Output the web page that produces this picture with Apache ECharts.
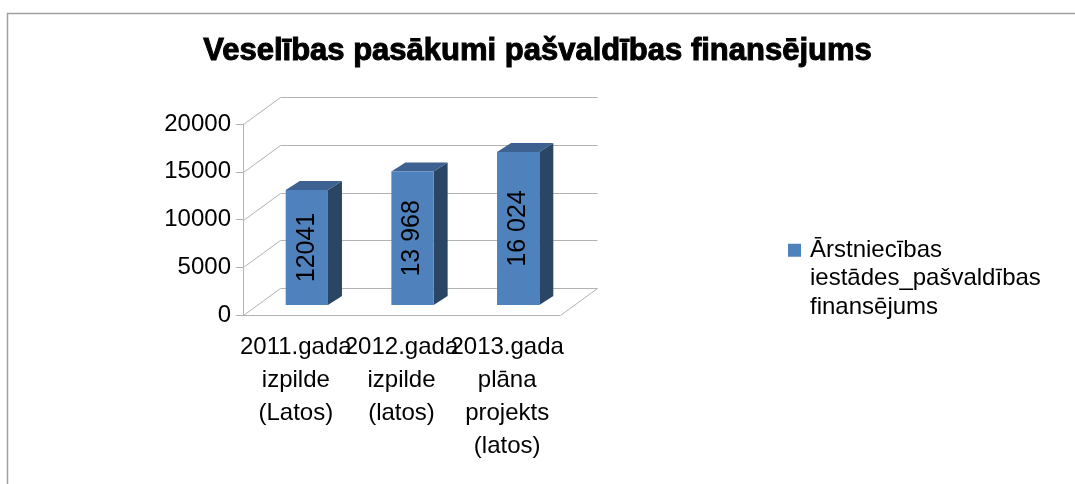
<!DOCTYPE html>
<html>
<head>
<meta charset="utf-8">
<script src="https://cdn.jsdelivr.net/npm/echarts@6/dist/echarts.min.js"></script>
<style>html,body{margin:0;padding:0;background:#fff}#main{width:1075px;height:484px}</style>
</head>
<body>
<div id="main"></div>
<script>
var categories = ['2011.gada izpilde (Latos)', '2012.gada izpilde (latos)', '2013.gada plāna projekts (latos)'];
var values = [12041, 13968, 16024];
var valueLabels = ['12041', '13 968', '16 024'];
var yTicks = [0, 5000, 10000, 15000, 20000];
var seriesName = 'Ārstniecības iestādes_pašvaldības finansējums';
var titleText = 'Veselības pasākumi pašvaldības finansējums';

var chartDom = document.getElementById('main');
var myChart = echarts.init(chartDom);

// fake 3d: offsets in px
var depth = [37, -27];
var barFront = [11, -10];
var barDepth = [14, -9];
var gridColor = '#b3b3b3';
var frontColor = '#4f81bd', sideColor = '#2b4565', topColor = '#3d6190';
var font = '"Liberation Sans", Arial, sans-serif';

function splitLines(s) {
  return s.split(' ').join('\n');
}

function renderWall(params, api) {
  var cs = params.coordSys;
  var v = api.value(1);
  var y = Math.round(api.coord([0, v])[1]) + 0.5;
  var x0 = cs.x + 0.5, x1 = cs.x + cs.width + 0.5;
  var pts = [[x0, y], [x0 + depth[0], y + depth[1]], [x1 + depth[0], y + depth[1]]];
  if (v === 0) pts.push([x1, y]);
  return {
    type: 'polyline',
    shape: { points: pts },
    style: { stroke: gridColor, lineWidth: 1, fill: null }
  };
}

function renderBar(params, api) {
  var base = api.coord([api.value(0), 0]);
  var top = api.coord([api.value(0), api.value(1)]);
  var w = api.size([1, 0])[0] * 0.4;
  var l = base[0] - w / 2 + barFront[0], r = l + w;
  var b = base[1] + barFront[1], t = top[1] + barFront[1];
  var dx = barDepth[0], dy = barDepth[1];
  return {
    type: 'group',
    children: [
      { type: 'polygon', shape: { points: [[r, b], [r + dx, b + dy], [r + dx, t + dy], [r, t]] }, style: { fill: sideColor } },
      { type: 'polygon', shape: { points: [[l, t], [r, t], [r + dx, t + dy], [l + dx, t + dy]] }, style: { fill: topColor } },
      { type: 'rect', shape: { x: l, y: t, width: w, height: b - t }, style: { fill: frontColor } },
      {
        type: 'text', x: (l + r) / 2, y: (t + b) / 2, rotation: Math.PI / 2,
        style: { text: valueLabels[params.dataIndex], fontSize: 25, fontFamily: font, fill: '#000', align: 'center', verticalAlign: 'middle' }
      }
    ]
  };
}

var option = {
  animation: false,
  backgroundColor: '#fff',
  title: {
    text: titleText,
    left: 'center',
    top: 36,
    padding: 0,
    textStyle: { fontSize: 31, fontWeight: 'bold', fontFamily: font, color: '#000', textBorderColor: '#000', textBorderWidth: 1 }
  },
  legend: {
    data: [seriesName],
    left: 788,
    top: 179,
    padding: 0,
    icon: 'rect',
    itemWidth: 13,
    itemHeight: 13,
    // two empty lines so the first real line sits level with the icon
    formatter: function (n) { return '\n\n' + splitLines(n); },
    textStyle: { fontSize: 24, lineHeight: 28.5, fontFamily: font, color: '#000', padding: [0, 0, 0, 4] }
  },
  graphic: [{
    type: 'polyline',
    shape: { points: [[7.5, 484], [7.5, 13.5], [1075, 13.5]] },
    style: { stroke: '#a0a0a0', lineWidth: 1.5, fill: null }
  }],
  grid: { left: 243, top: 124, width: 317, height: 191 },
  xAxis: {
    type: 'category',
    data: categories,
    axisLine: { lineStyle: { color: gridColor } },
    axisTick: { length: 6, lineStyle: { color: gridColor } },
    axisLabel: { interval: 0, margin: 16, fontSize: 24, lineHeight: 33, color: '#000', fontFamily: font, formatter: splitLines }
  },
  yAxis: {
    type: 'value',
    min: yTicks[0],
    max: yTicks[yTicks.length - 1],
    interval: 5000,
    axisLine: { show: true, lineStyle: { color: gridColor } },
    axisTick: { show: true, length: 7, lineStyle: { color: gridColor } },
    splitLine: { show: false },
    axisLabel: { margin: 12, fontSize: 24, color: '#000', fontFamily: font, formatter: function (v) { return String(v); } }
  },
  series: [
    {
      type: 'custom',
      silent: true,
      z: 1,
      renderItem: renderWall,
      data: yTicks.map(function (v) { return [0, v]; })
    },
    {
      name: seriesName,
      type: 'custom',
      z: 2,
      itemStyle: { color: frontColor },
      renderItem: renderBar,
      data: values.map(function (v, i) { return [i, v]; })
    }
  ]
};

option && myChart.setOption(option);
</script>
</body>
</html>
